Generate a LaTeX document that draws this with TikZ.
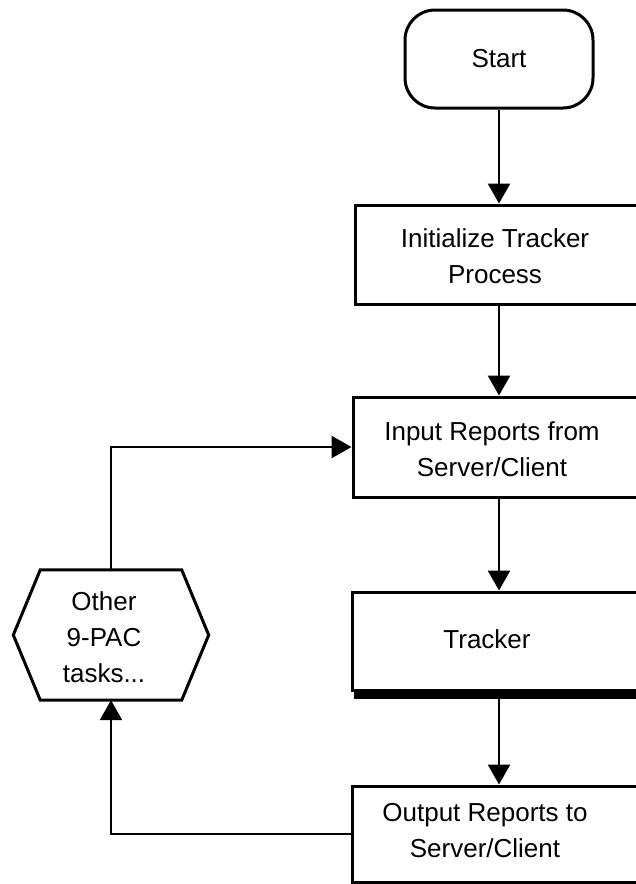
\documentclass[tikz,border=0pt]{standalone}
\usepackage{fontspec}
\setmainfont{Liberation Sans}
\usetikzlibrary{arrows.meta}
\begin{document}
\begin{tikzpicture}[x=1pt,y=-1pt,
  boxline/.style={draw=black, line width=3pt, line join=miter},
  procbox/.style={boxline, rectangle, inner sep=0pt},
  txt/.style={font=\fontsize{26}{36}\selectfont, align=center, inner sep=0pt, text=black},
  conn/.style={draw=black, line width=2.6pt, -{Triangle[length=20pt,width=22pt]}},
  hexbox/.style={rectangle, inner sep=0pt, minimum width=195pt, minimum height=130pt}]
\useasboundingbox (0,0) rectangle (636,884);
\clip (0,0) rectangle (636,884);

% start
\node[procbox, rounded corners=30pt, minimum width=188pt, minimum height=98pt, txt] (start) at (499,59) {Start};

% process boxes (they run past the right edge of the picture)
\node[procbox, minimum width=288pt, minimum height=99pt] (initBox) at (499,254.5) {};
\node[txt] (initT) at (495,256) {Initialize Tracker\\Process};

\node[procbox, minimum width=292pt, minimum height=100pt] (inBox) at (499,447) {};
\node[txt] (inT) at (492,449) {Input Reports from\\Server/Client};

\node[procbox, minimum width=294pt, minimum height=98pt] (trkBox) at (499,641) {};
\fill[black] ([xshift=3pt]trkBox.south west) rectangle ([yshift=-7pt]trkBox.south east);
\node[txt] (trkT) at (487,639) {Tracker};

\node[procbox, minimum width=294pt, minimum height=96pt] (outBox) at (499,834) {};
\node[txt] (outT) at (485,831) {Output Reports to\\Server/Client};

% hexagon
\node[hexbox] (hex) at (111,635) {};
\draw[boxline] ([xshift=27pt]hex.north west) -- ([xshift=-27pt]hex.north east) -- (hex.east)
  -- ([xshift=-27pt]hex.south east) -- ([xshift=27pt]hex.south west) -- (hex.west) -- cycle;
\node[txt] (hexT) at (104,637) {Other\\9-PAC\\tasks...};

% connectors
\draw[conn] (start.south) -- (initBox.north);
\draw[conn] (initBox.south) -- (inBox.north);
\draw[conn] (inBox.south) -- (trkBox.north);
\draw[conn] ([yshift=-7pt]trkBox.south) -- (outBox.north);
\draw[conn] (outBox.west) -| (hex.south);
\draw[conn] (hex.north) |- (inBox.west);
\end{tikzpicture}
\end{document}
